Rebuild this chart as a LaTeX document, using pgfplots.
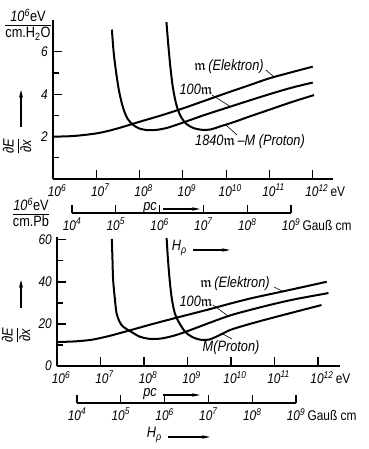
\documentclass[border=0pt]{standalone}
\usepackage{pgfplots}
\pgfplotsset{compat=1.18}
\usepackage{amssymb}
\usepackage{fontspec}
\setmainfont{Liberation Sans}[FakeStretch=0.85]
\usetikzlibrary{arrows.meta}
\newcommand{\tp}[1]{\textit{10\textsuperscript{#1}}}
\newcommand{\mm}{$\mathfrak{m}$}
\newcommand{\dEdx}{\begin{tabular}{@{}c@{}}\textit{∂E}\\[-1pt]\hline\rule{0pt}{13pt}\textit{∂x}\end{tabular}}
\pgfplotsset{
  myax/.style={
    scale only axis, clip=false,
    axis x line*=bottom, axis y line*=left,
    axis line style={line width=1.1pt, -},
    tick align=inside,
    major tick length=9pt, minor tick length=6pt,
    every tick/.style={line width=1.1pt, black},
    tick label style={font=\fontsize{14}{16}\selectfont},
    xticklabel style={xshift=4pt},
  },
  hax/.style={
    scale only axis, clip=false,
    axis x line*=bottom, hide y axis,
    axis line style={line width=1.1pt, -},
    tick align=inside, major tick length=8pt,
    every tick/.style={line width=1.1pt, black},
    tick label style={font=\fontsize{14}{16}\selectfont},
    xmin=4, xmax=9, ymin=0, ymax=1,
    xtick={4,5,6,7,8,9},
    xticklabels={\tp{4},\tp{5},\tp{6},\tp{7},\tp{8},\tp{9}\rlap{\,\upshape Gauß cm}},
  },
  cur/.style={line width=2pt, black, smooth, tension=0.5, no marks},
}
\begin{document}
\fontsize{15}{17}\selectfont
\begin{tikzpicture}[x=1pt,y=1pt]
\useasboundingbox (0,0) rectangle (368,449);

% ---------- top panel (water) ----------
\begin{axis}[myax, at={(53pt,270pt)}, anchor=south west,
  width=280pt, height=159pt,
  xmin=6, xmax=12.467, ymin=0, ymax=7.5,
  xtick={6,7,8,9,10,11,12},
  xticklabels={\tp{6},\tp{7},\tp{8},\tp{9},\tp{10},\tp{11},\tp{12}\rlap{\,\upshape eV}},
  ytick={2,4,6}, yticklabels={\textit{2},\textit{4},\textit{6}},
  minor ytick={1,3,5}]
\addplot[cur] coordinates {(6.0,2.0)(6.3,2.01)(6.6,2.05)(7.0,2.15)(7.3,2.28)(7.6,2.45)(8.0,2.7)(8.5,3.0)(9.0,3.33)(9.5,3.69)(10.0,4.05)(10.5,4.4)(11.0,4.75)(11.5,5.03)(12.0,5.3)};
\addplot[cur] coordinates {(7.36,7.05)(7.40,6.0)(7.46,5.0)(7.53,4.1)(7.62,3.35)(7.72,2.85)(7.85,2.55)(8.0,2.38)(8.2,2.3)(8.4,2.32)(8.65,2.42)(9.0,2.66)(9.5,3.02)(10.0,3.35)(10.5,3.68)(11.0,4.0)(11.5,4.3)(12.0,4.55)};
\addplot[cur] coordinates {(8.62,7.4)(8.66,6.4)(8.71,5.3)(8.77,4.3)(8.85,3.5)(8.95,2.95)(9.08,2.6)(9.25,2.4)(9.45,2.32)(9.65,2.34)(9.86,2.48)(10.2,2.7)(10.5,2.92)(11.0,3.27)(11.5,3.62)(12.03,3.96)};
\end{axis}

\begin{axis}[hax, at={(72pt,236pt)}, anchor=south west, width=219pt, height=20pt]
\addplot[draw=none] coordinates {(4,0)(9,0)};
\end{axis}

% ---------- bottom panel (lead) ----------
\begin{axis}[myax, at={(57pt,83pt)}, anchor=south west,
  width=283pt, height=129pt,
  xmin=6, xmax=12.506, ymin=0, ymax=61.4,
  xtick={6,7,8,9,10,11,12},
  xticklabels={\tp{6},\tp{7},\tp{8},\tp{9},\tp{10},\tp{11},\tp{12}\rlap{\,\upshape eV}},
  ytick={0,20,40,60}, yticklabels={\textit{0},\textit{20},\textit{40},\textit{60}},
  minor ytick={10,30,50}]
\addplot[cur] coordinates {(6.0,11.4)(6.4,11.7)(6.8,12.5)(7.2,14.3)(7.68,17.0)(8.2,20.0)(8.9,23.8)(9.5,27.0)(10.0,29.8)(10.5,32.4)(11.17,35.4)(11.7,37.8)(12.2,40.1)};
\addplot[cur] coordinates {(7.26,60.5)(7.275,51)(7.29,41)(7.33,32)(7.37,25)(7.44,21)(7.52,18.7)(7.68,16.6)(7.9,14.0)(8.14,12.9)(8.4,13.1)(8.7,14.5)(9.0,16.6)(9.5,20.5)(10.0,24.2)(10.5,27.0)(11.0,29.6)(11.5,31.9)(12.24,34.7)};
\addplot[cur] coordinates {(8.52,61)(8.55,51)(8.59,41)(8.64,32)(8.71,25)(8.81,20.5)(8.95,16.2)(9.1,13.9)(9.3,12.5)(9.5,12.6)(9.75,14.8)(10.0,17.3)(10.5,20.4)(11.0,23.2)(11.5,25.9)(12.08,29.0)};
\end{axis}

\begin{axis}[hax, at={(77pt,46pt)}, anchor=south west, width=219pt, height=20pt]
\addplot[draw=none] coordinates {(4,0)(9,0)};
\end{axis}

% ---------- labels ----------
\node at (28,423) {\begin{tabular}{@{}c@{}}\tp{6}eV\\[-2pt]\hline\rule{0pt}{13pt}cm.H\textsubscript{2}O\end{tabular}};
\node at (31,234) {\begin{tabular}{@{}c@{}}\tp{6}eV\\[-2pt]\hline\rule{0pt}{13pt}cm.Pb\end{tabular}};
\node[rotate=90] at (19,303) {\dEdx};
\node[rotate=90] at (18,114) {\dEdx};
\draw[line width=1.1pt,-{Stealth[length=8pt,width=4pt]}] (21,322) -- (21,359);
\draw[line width=1.1pt,-{Stealth[length=8pt,width=4pt]}] (21,141) -- (21,169);

\node[anchor=east] at (162,241) {\textit{pc}};
\draw[line width=1.1pt,-{Stealth[length=8pt,width=3.5pt]}] (163,240) -- (200,240);
\node[anchor=east] at (192,201) {\textit{H}\textsubscript{\textit{ρ}}};
\draw[line width=1.1pt,-{Stealth[length=8pt,width=3.5pt]}] (193,199) -- (230,199);

\node[anchor=east] at (162,55) {\textit{pc}};
\draw[line width=1.1pt,-{Stealth[length=8pt,width=3.5pt]}] (163,54) -- (200,54);
\node[anchor=east] at (167,14) {\textit{H}\textsubscript{\textit{ρ}}};
\draw[line width=1.1pt,-{Stealth[length=8pt,width=3.5pt]}] (168,12) -- (210,12);

% curve labels top
\node at (229,382) {\mm\,\textit{(Elektron)}};
\draw[line width=0.6pt] (266,379) -- (274,372);
\node at (196,360) {\textit{100}\mm};
\draw[line width=0.6pt] (212,354) -- (231,342);
\node at (250,307) {\textit{1840}\mm\,\textit{–M (Proton)}};
\draw[line width=0.6pt] (237,314) -- (226,324);

% curve labels bottom
\node at (235,165) {\mm\,\textit{(Elektron)}};
\draw[line width=0.6pt] (274,162) -- (284,157);
\node at (196,148) {\textit{100}\mm};
\draw[line width=0.6pt] (213,144) -- (228,133);
\node at (231,101) {\textit{M(Proton)}};
\draw[line width=0.6pt] (232,110) -- (221,116);
\end{tikzpicture}
\end{document}
